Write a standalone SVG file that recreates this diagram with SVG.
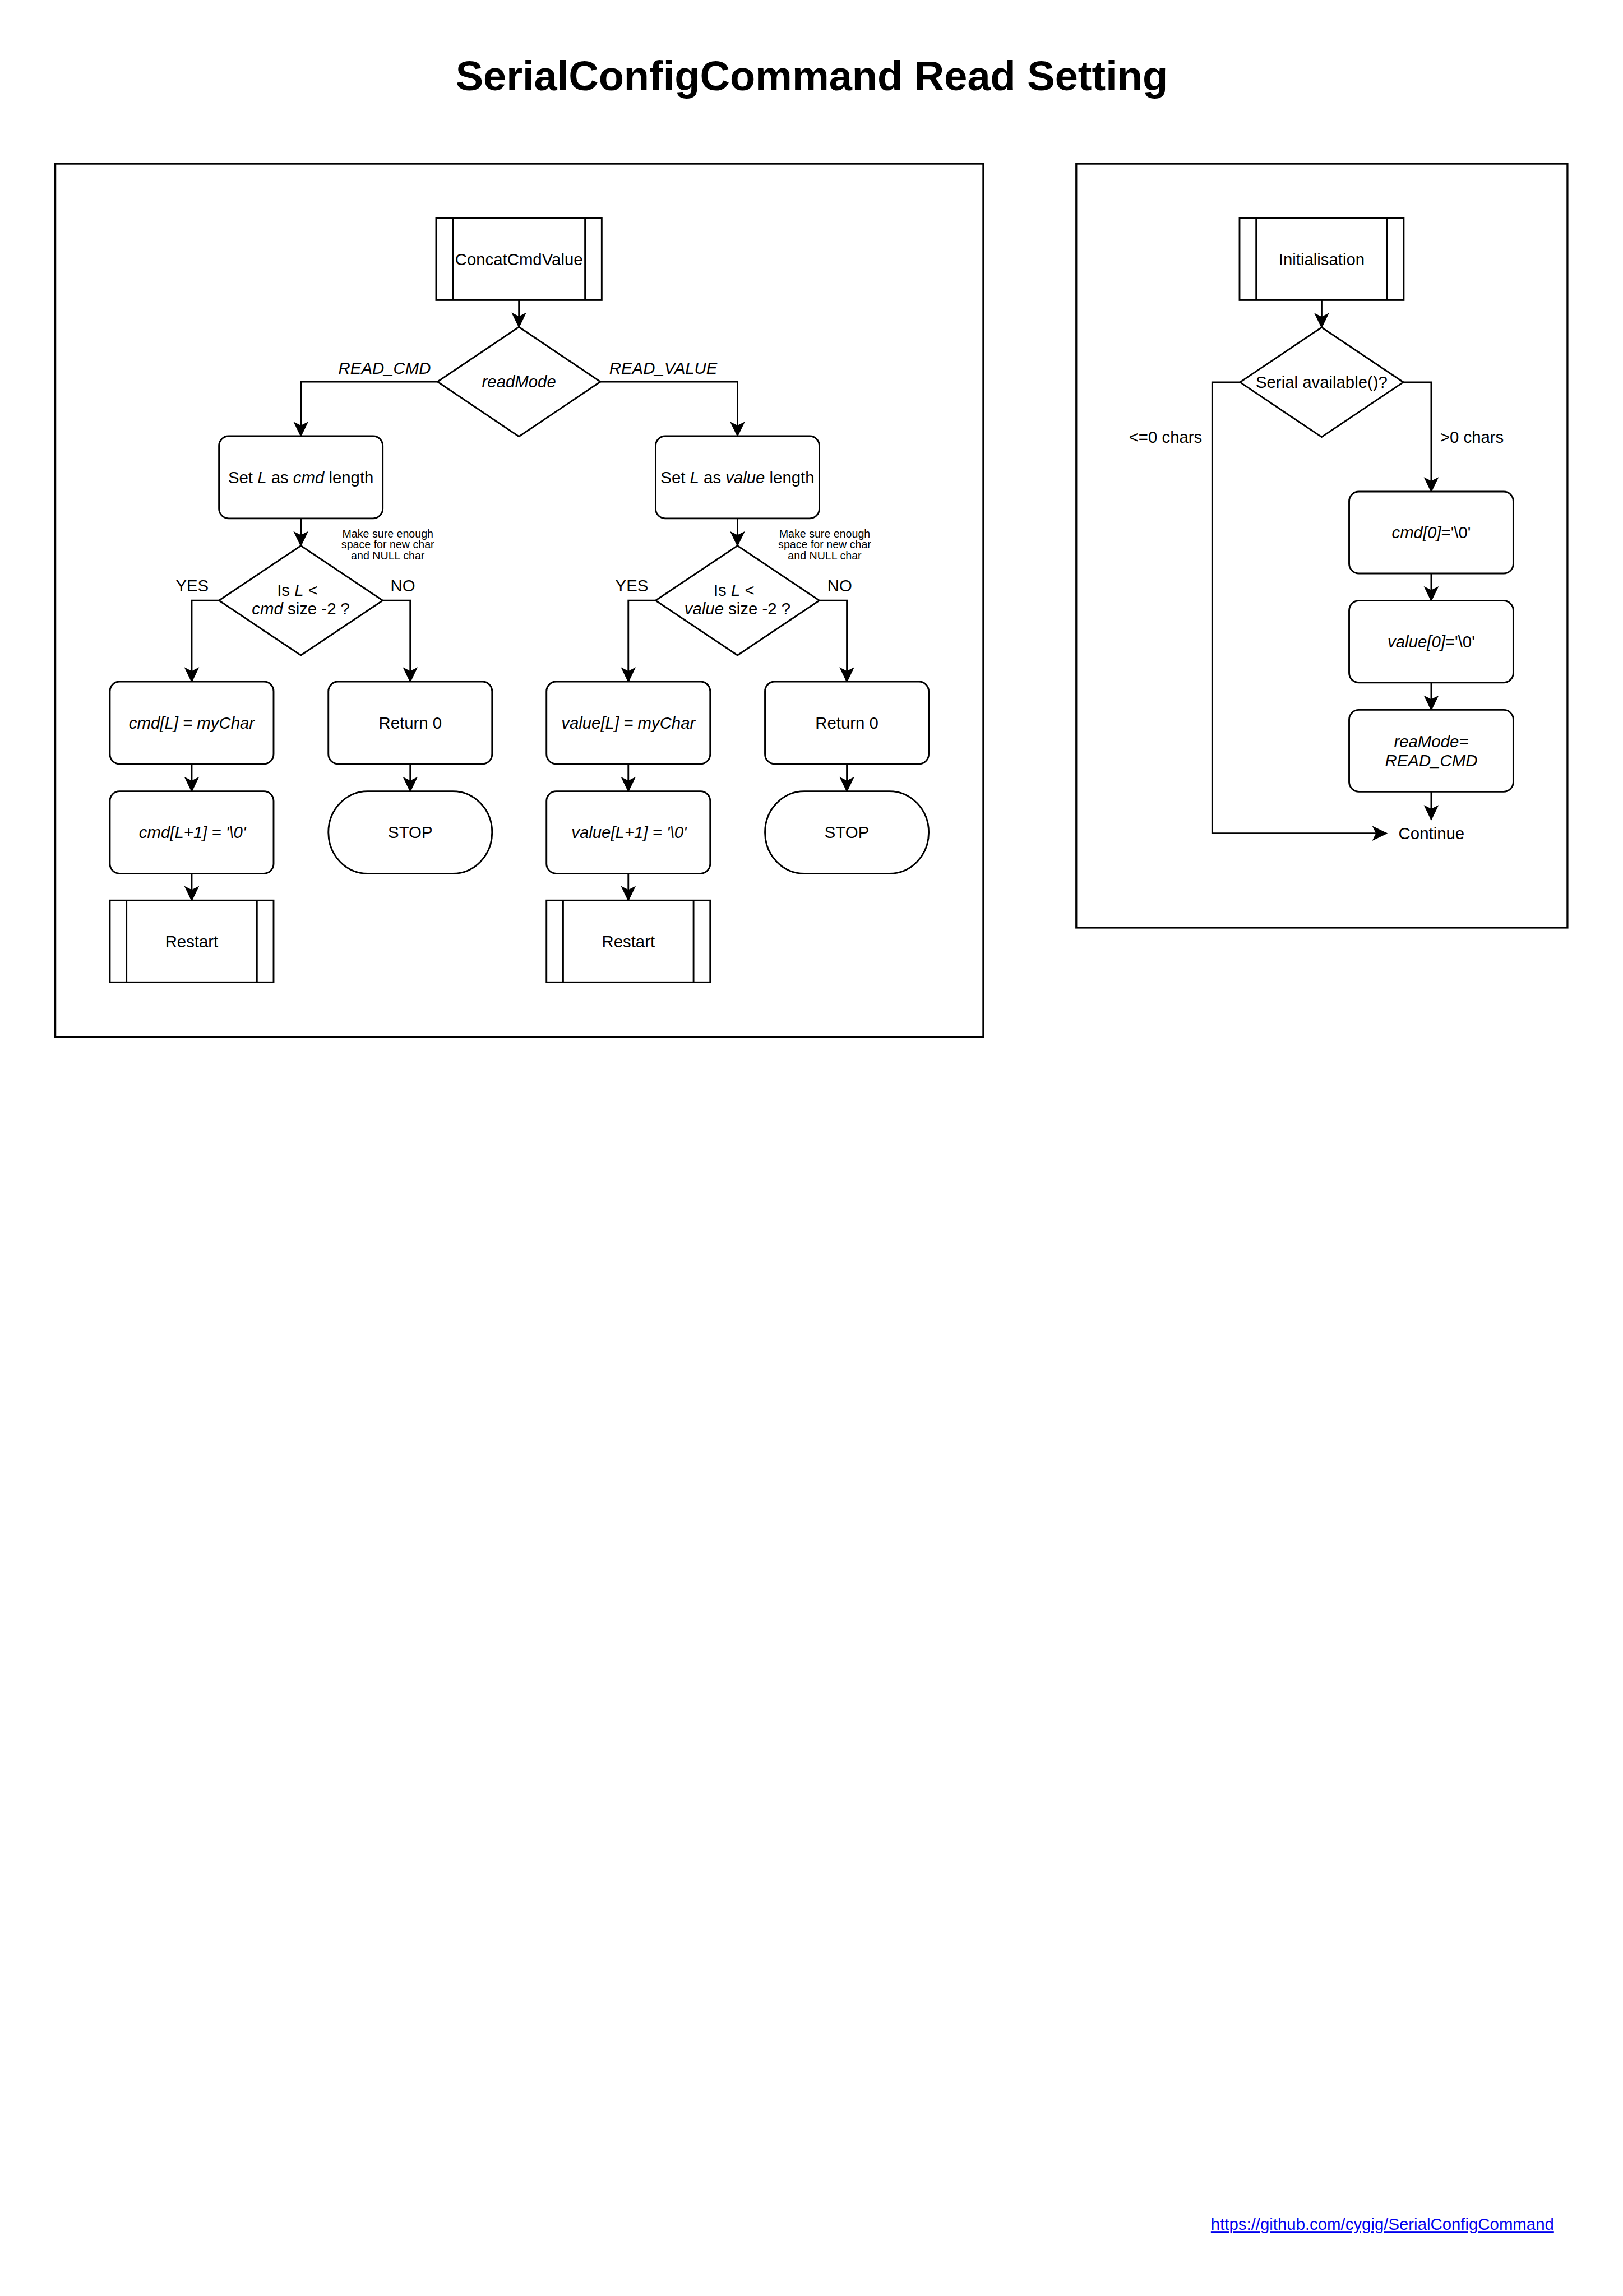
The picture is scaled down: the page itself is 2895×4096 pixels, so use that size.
<svg xmlns="http://www.w3.org/2000/svg" width="2895" height="4096" viewBox="0 0 2895 4096">
<defs>
<marker id="arr" markerUnits="userSpaceOnUse" markerWidth="38" markerHeight="36" viewBox="-34 -18 38 36" refX="0" refY="0" orient="auto">
<path d="M0,0 L-29,-14 L-22,0 L-29,14 Z" fill="#000" stroke="#000" stroke-width="2"/>
</marker>
<style>
.n{fill:#fff;stroke:#000;stroke-width:3.5}
.ln{fill:none;stroke:#000;stroke-width:3.5}
.c{fill:none;stroke:#000;stroke-width:3.5;marker-end:url(#arr)}
.p{fill:none;stroke:#000;stroke-width:4}
text{font-family:"Liberation Sans",Arial,Helvetica,sans-serif;font-size:35.6px;text-anchor:middle;fill:#000}
.i{font-style:italic}
.s{font-size:23.8px}
.title{font-size:89.7px;font-weight:bold}
.link{fill:#0000EE;text-decoration:underline;text-anchor:start}
</style>
</defs>
<rect width="2895" height="4096" fill="#fff"/>
<g transform="scale(0.825)">
<text id="title" class="title" x="1755" y="195">SerialConfigCommand Read Setting</text>

<g id="panel-left"><rect class="p" x="119.5" y="354" width="2006.5" height="1888.5"/></g>
<g id="panel-right"><rect class="p" x="2327" y="354" width="1062" height="1652"/></g>

<g id="connectors">
<path class="c" d="M1122,649 V707"/>
<path class="c" d="M946,825.5 H650.5 V943"/>
<path class="c" d="M1298,825.5 H1594.5 V943"/>
<path class="c" d="M650.5,1121 V1180"/>
<path class="c" d="M1594.5,1121 V1180"/>
<path class="c" d="M473.5,1298.5 H414.5 V1474"/>
<path class="c" d="M827.5,1298.5 H887 V1474"/>
<path class="c" d="M1417.5,1298.5 H1358.5 V1474"/>
<path class="c" d="M1771.5,1298.5 H1831 V1474"/>
<path class="c" d="M414.5,1652 V1711"/>
<path class="c" d="M414.5,1889 V1947"/>
<path class="c" d="M887,1652 V1711"/>
<path class="c" d="M1358.5,1652 V1711"/>
<path class="c" d="M1358.5,1889 V1947"/>
<path class="c" d="M1831,1652 V1711"/>
<path class="c" d="M2857.5,649 V708"/>
<path class="c" d="M3034,826.5 H3094.5 V1063"/>
<path class="c" d="M2681,826.5 H2621 V1802 H2998"/>
<path class="c" d="M3094.5,1240 V1299"/>
<path class="c" d="M3094.5,1476 V1535"/>
<path class="c" d="M3094.5,1712 V1772"/>
<text class="i" x="831.5" y="809">READ_CMD</text>
<text class="i" x="1434" y="809">READ_VALUE</text>
<text x="415.5" y="1279">YES</text>
<text x="871" y="1279">NO</text>
<text x="1366" y="1279">YES</text>
<text x="1815.5" y="1279">NO</text>
<text x="2520" y="958">&lt;=0 chars</text>
<text x="3182.5" y="958">&gt;0 chars</text>
</g>

<g id="n-concat">
<rect class="n" x="943" y="472" width="358" height="177"/>
<line class="ln" x1="979" y1="472" x2="979" y2="649"/>
<line class="ln" x1="1265" y1="472" x2="1265" y2="649"/>
<text x="1122" y="573">ConcatCmdValue</text>
</g>
<g id="n-readmode">
<polygon class="n" points="946,825.5 1122,707 1298,825.5 1122,944"/>
<text class="i" x="1122" y="838">readMode</text>
</g>

<g id="n-setcmd">
<rect class="n" x="473.5" y="943" width="354" height="178" rx="21"/>
<text x="650.5" y="1044.5">Set <tspan class="i">L</tspan> as <tspan class="i">cmd</tspan> length</text>
</g>
<g id="n-setval">
<rect class="n" x="1417.5" y="943" width="354" height="178" rx="21"/>
<text x="1594.5" y="1044.5">Set <tspan class="i">L</tspan> as <tspan class="i">value</tspan> length</text>
</g>

<g id="n-chkcmd">
<polygon class="n" points="473.5,1298.5 650.5,1180 827.5,1298.5 650.5,1417"/>
<text x="643" y="1288">Is <tspan class="i">L</tspan> &lt;</text>
<text x="650.5" y="1329"><tspan class="i">cmd</tspan> size -2 ?</text>
</g>
<g id="note-cmd">
<text class="s" x="838.5" y="1162">Make sure enough</text>
<text class="s" x="838.5" y="1186">space for new char</text>
<text class="s" x="838.5" y="1210">and NULL char</text>
</g>
<g id="n-chkval">
<polygon class="n" points="1417.5,1298.5 1594.5,1180 1771.5,1298.5 1594.5,1417"/>
<text x="1587" y="1288">Is <tspan class="i">L</tspan> &lt;</text>
<text x="1594.5" y="1329"><tspan class="i">value</tspan> size -2 ?</text>
</g>
<g id="note-val">
<text class="s" x="1783" y="1162">Make sure enough</text>
<text class="s" x="1783" y="1186">space for new char</text>
<text class="s" x="1783" y="1210">and NULL char</text>
</g>

<g id="n-cmdL">
<rect class="n" x="237.5" y="1474" width="354" height="178" rx="21"/>
<text class="i" x="414.5" y="1576">cmd[L] = myChar</text>
</g>
<g id="n-ret1">
<rect class="n" x="710" y="1474" width="354" height="178" rx="21"/>
<text x="887" y="1576">Return 0</text>
</g>
<g id="n-cmdL1">
<rect class="n" x="237.5" y="1711" width="354" height="178" rx="21"/>
<text class="i" x="416" y="1812.5">cmd[L+1] =  '\0'</text>
</g>
<g id="n-stop1">
<rect class="n" x="710" y="1711" width="354" height="178" rx="85" ry="89"/>
<text x="887" y="1812.5">STOP</text>
</g>
<g id="n-restart1">
<rect class="n" x="237.5" y="1947" width="354" height="177"/>
<line class="ln" x1="273.5" y1="1947" x2="273.5" y2="2124"/>
<line class="ln" x1="555.5" y1="1947" x2="555.5" y2="2124"/>
<text x="414.5" y="2048">Restart</text>
</g>

<g id="n-valL">
<rect class="n" x="1181.5" y="1474" width="354" height="178" rx="21"/>
<text class="i" x="1358.5" y="1576">value[L] = myChar</text>
</g>
<g id="n-ret2">
<rect class="n" x="1654" y="1474" width="354" height="178" rx="21"/>
<text x="1831" y="1576">Return 0</text>
</g>
<g id="n-valL1">
<rect class="n" x="1181.5" y="1711" width="354" height="178" rx="21"/>
<text class="i" x="1360" y="1812.5">value[L+1] =  '\0'</text>
</g>
<g id="n-stop2">
<rect class="n" x="1654" y="1711" width="354" height="178" rx="85" ry="89"/>
<text x="1831" y="1812.5">STOP</text>
</g>
<g id="n-restart2">
<rect class="n" x="1181.5" y="1947" width="354" height="177"/>
<line class="ln" x1="1217.5" y1="1947" x2="1217.5" y2="2124"/>
<line class="ln" x1="1499.5" y1="1947" x2="1499.5" y2="2124"/>
<text x="1358.5" y="2048">Restart</text>
</g>

<g id="n-init">
<rect class="n" x="2680" y="472" width="355" height="177"/>
<line class="ln" x1="2716" y1="472" x2="2716" y2="649"/>
<line class="ln" x1="2999" y1="472" x2="2999" y2="649"/>
<text x="2857.5" y="573">Initialisation</text>
</g>
<g id="n-serial">
<polygon class="n" points="2681,826.5 2857.5,708 3034,826.5 2857.5,945"/>
<text x="2857.5" y="839">Serial available()?</text>
</g>
<g id="n-cmd0">
<rect class="n" x="2917" y="1063" width="355" height="177" rx="21"/>
<text x="3094.5" y="1164"><tspan class="i">cmd[0]</tspan>='\0'</text>
</g>
<g id="n-val0">
<rect class="n" x="2917" y="1299" width="355" height="177" rx="21"/>
<text x="3094.5" y="1400"><tspan class="i">value[0]</tspan>='\0'</text>
</g>
<g id="n-reamode">
<rect class="n" x="2917" y="1535" width="355" height="177" rx="21"/>
<text class="i" x="3094.5" y="1616">reaMode=</text>
<text class="i" x="3094.5" y="1657">READ_CMD</text>
</g>
<g id="n-continue">
<text x="3095" y="1814">Continue</text>
</g>

<text id="footer-link" class="link" x="2618" y="4822">https://github.com/cygig/SerialConfigCommand</text>
</g>
</svg>
